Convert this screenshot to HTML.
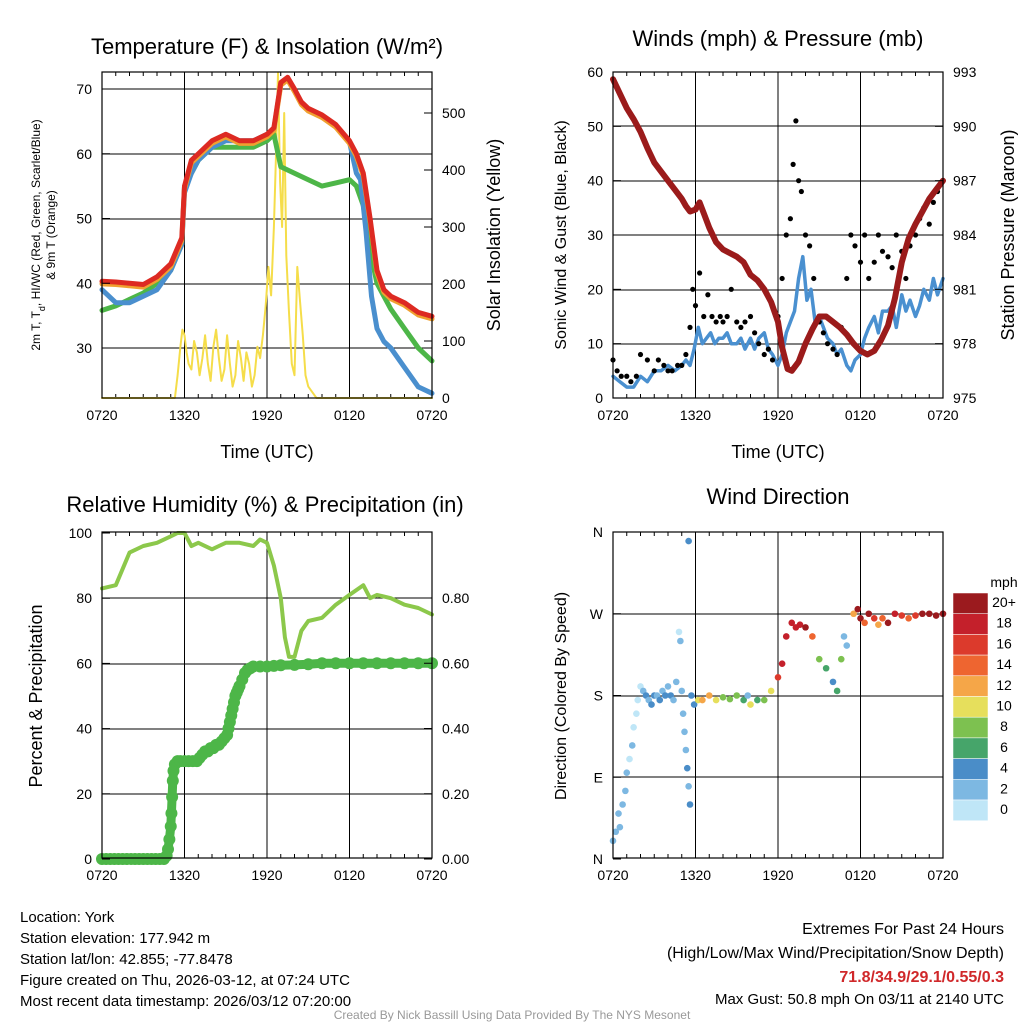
<!DOCTYPE html>
<html><head><meta charset="utf-8"><style>
body{margin:0;background:#fff;}
svg text{font-family:"Liberation Sans",Arial,sans-serif;fill:#000;}
</style></head><body>
<svg id="s" width="1024" height="1024" viewBox="0 0 1024 1024" xmlns="http://www.w3.org/2000/svg"></svg>
<script>
// ---------- data ----------
const xTickLabels=["0720","1320","1920","0120","0720"];
const tempHours=[0,1,2,3,4,5,5.8,6,6.5,7,8,9,10,11,12,12.5,13,13.5,14,14.5,15,16,17,18,18.5,19,19.5,20,20.5,21,22,23,24];
const tempRed=[40.3,40.2,40,39.8,41,43,47,55,59,60,62,63,62,62,63,64,71,71.8,70,68,67,66,64.5,62,60,57,50,42,39,38,37,35.5,34.9];
const tdGreenHours=[0,1,2,3,4,5,5.8,6,6.5,7,8,9,10,11,12,12.5,13,14,15,16,17,18,18.5,19,19.5,20,21,22,23,24];
const tdGreen=[35.8,36.5,37.5,38.5,40,42,46,55,57,59,61,61,61,61,62,63,58,57,56,55,55.5,56,55,52,45,40,36,33,30,28];
const wcBlueHours=[0,0.5,1,2,3,4,5,5.8,6,6.5,7,8,9,10,11,12,12.5,13,13.5,14,14.5,15,16,17,18,18.5,18.8,19.2,19.6,20,20.5,21,22,23,24];
const wcBlue=[39,38,37,37,38,39,42,46,54,57,59,61,62,62,62,63,63.8,70.8,71.6,69.8,67.8,66.8,65.8,64.3,61.8,57,56,48,38,33,31,30,27,24,23];
const solarHours=[0,5.3,5.5,5.7,5.85,6.0,6.15,6.3,6.5,6.7,6.9,7.1,7.3,7.5,7.7,7.9,8.1,8.3,8.5,8.7,8.9,9.1,9.3,9.5,9.7,9.9,10.1,10.3,10.5,10.7,10.9,11.1,11.3,11.5,11.7,11.9,12.1,12.3,12.5,12.65,12.8,12.95,13.1,13.25,13.4,13.6,13.8,14.0,14.2,14.4,14.6,14.8,15.0,15.3,15.6,24];
const solar=[0,0,40,90,120,110,80,60,50,100,80,40,70,110,60,30,90,120,70,30,50,110,60,20,40,100,70,30,80,60,20,40,90,70,110,160,230,180,300,420,570,380,300,500,250,150,60,40,230,170,110,40,20,10,0,0];
const presHours=[0,0.5,1,1.5,2,2.5,3,3.5,4,4.5,5,5.3,5.6,6,6.3,6.6,7,7.5,8,8.5,9,9.5,10,10.5,11,11.5,12,12.3,12.7,13,13.5,14,14.5,15,15.5,16,16.5,17,17.5,18,18.5,19,19.5,20,20.5,21,21.5,22,22.5,23,23.5,24];
const pressure=[992.6,991.8,991,990.4,989.7,988.8,988,987.5,987,986.5,986,985.6,985.3,985.4,985.8,985.2,984.4,983.6,983.2,983,982.8,982.5,981.8,981.5,981,980.3,979.2,977.8,976.6,976.5,977,978,978.8,979.5,979.5,979.2,978.9,978.5,978,977.6,977.4,977.6,978.2,979,980.5,982.5,983.8,984.6,985.3,986,986.5,987];
const windHours=[0,0.5,1,1.5,2,2.5,3,3.5,4,4.5,5,5.3,5.6,5.9,6.2,6.5,6.8,7.1,7.4,7.7,8,8.3,8.6,9,9.3,9.6,10,10.3,10.6,11,11.3,11.6,12,12.3,12.6,12.9,13.2,13.5,13.8,14.1,14.4,14.7,15,15.3,15.6,16,16.3,16.6,17,17.3,17.6,18,18.3,18.6,19,19.3,19.6,20,20.3,20.6,21,21.3,21.6,22,22.3,22.6,23,23.3,23.6,24];
const windSpeed=[4,3,2,2,4,3,5,5,6,5,6,7,6,9,13,10,11,12,10,11,11,12,10,10,11,9,11,9,11,12,9,8,6,8,12,14,16,22,26,18,20,14,15,13,11,10,8,9,6,5,7,8,11,13,15,12,16,16,17,13,19,16,18,15,17,20,18,22,19,22];
const gustHours=[0,0.3,0.6,1,1.3,1.7,2,2.5,3,3.3,3.7,4,4.3,4.7,5,5.3,5.6,5.8,6,6.3,6.6,6.9,7.2,7.5,7.8,8,8.3,8.6,9,9.3,9.6,10,10.3,10.6,11,11.3,11.6,12,12.3,12.6,12.9,13.1,13.3,13.5,13.7,14,14.3,14.6,15,15.3,15.6,16,16.3,16.6,17,17.3,17.6,18,18.3,18.6,19,19.3,19.6,20,20.3,20.6,21,21.3,21.6,22,22.3,22.6,23,23.3,23.6,24];
const gusts=[7,5,4,4,3,4,8,7,5,7,6,5,5,6,6,8,13,20,17,23,15,19,15,14,15,14,15,20,14,13,14,15,12,10,8,9,7,15,22,30,33,43,51,40,38,30,28,22,14,12,10,9,8,13,22,30,28,25,30,22,25,30,27,26,24,30,27,22,28,30,33,35,32,36,38,40];
const rhHours=[0,1,2,3,4,5,5.5,6,6.5,7,8,8.5,9,10,11,11.5,12,12.5,13,13.3,13.6,14,14.5,15,16,17,18,19,19.5,20,21,22,23,24];
const rh=[83,84,94,96,97,99,100,100,96,97,95,96,97,97,96,98,97,90,80,68,62,62,70,73,74,78,81,84,80,81,80,78,77,75];
const precipHours=[0,0.3,0.6,0.9,1.2,1.5,1.8,2.1,2.4,2.7,3,3.3,3.6,3.9,4.2,4.5,4.7,4.8,4.9,5.0,5.05,5.1,5.15,5.2,5.3,5.5,5.7,6,6.3,6.6,6.9,7.1,7.3,7.5,7.7,7.9,8.1,8.3,8.5,8.7,8.9,9.1,9.2,9.3,9.4,9.5,9.6,9.7,9.8,9.9,10,10.2,10.4,10.6,10.8,11,11.5,12,12.5,13,14,15,16,17,18,19,20,21,22,23,24];
const precip=[0,0,0,0,0,0,0,0,0,0,0,0,0,0,0,0,0.01,0.03,0.06,0.1,0.14,0.19,0.24,0.27,0.29,0.3,0.3,0.3,0.3,0.3,0.3,0.31,0.32,0.33,0.33,0.34,0.34,0.35,0.35,0.36,0.37,0.38,0.4,0.42,0.44,0.46,0.48,0.5,0.51,0.52,0.53,0.55,0.57,0.58,0.585,0.59,0.59,0.59,0.592,0.594,0.595,0.597,0.6,0.6,0.6,0.6,0.6,0.6,0.6,0.6,0.6];
const dirHours=[0,0.2,0.4,0.5,0.7,0.9,1.0,1.2,1.4,1.5,1.7,1.8,2.0,2.2,2.4,2.6,2.8,3.0,3.2,3.4,3.6,3.8,4.0,4.2,4.4,4.6,4.8,4.9,5.0,5.1,5.2,5.3,5.4,5.5,5.6,5.5,5.7,5.9,6.2,6.5,7.0,7.5,8.0,8.5,9.0,9.5,9.8,10.0,10.5,11.0,11.5,12.0,12.3,12.6,13.0,13.3,13.6,14.0,14.5,15.0,15.5,16.0,16.3,16.6,16.8,17.0,17.5,17.8,18.0,18.3,18.6,19.0,19.3,19.6,20.0,20.5,21.0,21.5,22.0,22.5,23.0,23.5,24];
const dirDeg=[20,30,50,35,60,75,95,110,125,145,160,175,190,185,180,175,170,180,180,175,185,180,190,180,175,195,250,240,185,160,140,120,100,80,60,350,180,170,175,175,180,175,178,176,180,175,180,170,175,175,185,200,215,245,260,255,258,255,245,220,210,195,185,220,245,235,270,275,265,260,270,265,258,265,260,270,268,265,268,270,270,268,270];
const dirSpeed=[3,2,2,3,2,2,2,1,2,1,1,1,1,3,4,3,4,4,3,4,3,4,2,4,3,2,1,2,2,3,2,3,4,3,4,4,4,4,10,12,13,10,8,9,8,7,3,10,7,8,10,16,18,18,18,18,19,20,14,8,7,5,7,9,3,3,12,20,20,14,20,16,12,14,20,18,16,14,16,20,20,20,20];
const cbarLabels=["20+","18","16","14","12","10","8","6","4","2","0"];
const cbarColors=["#9b1a1e","#c4202b","#dc3a2c","#ee6530","#f5a648","#e6df5c","#7dc150","#46a56a","#4a8dc8","#7db8e2","#bfe6f7"];
// ---------- helpers ----------
const S=document.getElementById('s');const NS="http://www.w3.org/2000/svg";
function mk(tag,at,parent){const e=document.createElementNS(NS,tag);for(const k in at)e.setAttribute(k,at[k]);(parent||S).appendChild(e);return e;}
function txt(x,y,s,size,anchor,name,extra){const t=mk('text',Object.assign({x:x,y:y,'font-size':size,'text-anchor':anchor||'middle'},extra||{}));t.textContent=s;


return t;}
function panel(x0,y0,name){const P={x0:x0,y0:y0,w:330,h:326,sx:h=>x0+h/24*330};
const g=mk('g',{});


P.g=g;return P;}
function frame(P,hgrid){const g=P.g;
for(const h of [6,12,18])mk('line',{x1:P.sx(h),x2:P.sx(h),y1:P.y0,y2:P.y0+P.h,stroke:'#000','stroke-width':1},g);
for(const y of hgrid)mk('line',{x1:P.x0,x2:P.x0+P.w,y1:y,y2:y,stroke:'#000','stroke-width':1},g);
for(let h=1;h<24;h++){mk('line',{x1:P.sx(h),x2:P.sx(h),y1:P.y0+P.h,y2:P.y0+P.h-(h%6?4:8),stroke:'#000'},g);mk('line',{x1:P.sx(h),x2:P.sx(h),y1:P.y0,y2:P.y0+(h%6?4:8),stroke:'#000'},g);}
xTickLabels.forEach((l,i)=>txt(P.sx(i*6),P.y0+P.h+22,l,14,'middle','x-tick-label'));}
function border(P){const r=mk('rect',{x:P.x0,y:P.y0,width:P.w,height:P.h,fill:'none',stroke:'#000','stroke-width':1.2},P.g);

}
function yticks(P,vals,fy,labels,side){vals.forEach((v,i)=>{const y=fy(v);const xe=side=='l'?P.x0:P.x0+P.w;const d=side=='l'?8:-8;
mk('line',{x1:xe,x2:xe+d,y1:y,y2:y,stroke:'#000'},P.g);
txt(side=='l'?P.x0-10:P.x0+P.w+10,y+5,labels[i],14,side=='l'?'end':'start',side=='l'?'y-tick-label-left':'y-tick-label-right');});}
function line(P,hs,vs,fy,color,w,name){const d=hs.map((h,i)=>(i?'L':'M')+P.sx(h).toFixed(1)+','+fy(vs[i]).toFixed(1)).join('');
const p=mk('path',{d:d,fill:'none',stroke:color,'stroke-width':w,'stroke-linejoin':'round','stroke-linecap':'round'},P.g);

return p;}
function dots(P,hs,vs,fy,color,r,name){hs.forEach((h,i)=>{const c=mk('circle',{cx:P.sx(h),cy:fy(vs[i]),r:r,fill:color},P.g);

});}
function lin(v0,v1,y0,y1){return v=>y0+(v-v0)/(v1-v0)*(y1-y0);}
// ---------- panel 1 ----------
let P=panel(102,72,'temperature-panel');
const fT=lin(30,70,348,89),fSol=lin(0,500,398,113);
frame(P,[89,154,219,284,348]);
line(P,solarHours,solar,fSol,'#f5dd4a',2,'solar-insolation-line');
line(P,tdGreenHours,tdGreen,fT,'#4db648',5,'dewpoint-line');
line(P,wcBlueHours,wcBlue,fT,'#4a8fce',5,'heat-index-windchill-line');
line(P,tempHours,tempRed.map(v=>v-0.4),fT,'#f0a030',5,'9m-temp-line');
line(P,tempHours,tempRed,fT,'#dd2a22',5,'temperature-line');
border(P);
yticks(P,[30,40,50,60,70],fT,['30','40','50','60','70'],'l');
yticks(P,[0,100,200,300,400,500],fSol,['0','100','200','300','400','500'],'r');
txt(267,54,'Temperature (F) & Insolation (W/m²)',22,'middle','temperature-title');
txt(267,458,'Time (UTC)',18,'middle','x-axis-title');
const yl=txt(0,0,'2m T, T',12,'middle','y-axis-title-left',{transform:'translate(40,235) rotate(-90)'});
yl.innerHTML='2m T, T<tspan baseline-shift="sub" font-size="9">d</tspan>, HI/WC (Red, Green, Scarlet/Blue)';
txt(0,0,'& 9m T (Orange)',12,'middle','y-axis-title-left-2',{transform:'translate(55,235) rotate(-90)'});
txt(0,0,'Solar Insolation (Yellow)',18,'middle','y-axis-title-right',{transform:'translate(500,235) rotate(-90)'});
// ---------- panel 2 ----------
P=panel(613,72,'winds-panel');
const fW=lin(0,60,398,72),fP=lin(975,993,398,72);
frame(P,[126,181,235,290,344]);
line(P,windHours,windSpeed,fW,'#4a90d0',3.5,'sonic-wind-line');
dots(P,gustHours,gusts,fW,'#000',2.6,'gust-point');
line(P,presHours,pressure,fP,'#9b1b1b',6,'pressure-line');
border(P);
yticks(P,[0,10,20,30,40,50,60],fW,['0','10','20','30','40','50','60'],'l');
yticks(P,[975,978,981,984,987,990,993],fP,['975','978','981','984','987','990','993'],'r');
txt(778,46,'Winds (mph) & Pressure (mb)',22,'middle','winds-title');
txt(778,458,'Time (UTC)',18,'middle','x-axis-title');
txt(0,0,'Sonic Wind & Gust (Blue, Black)',16,'middle','y-axis-title-left',{transform:'translate(566,235) rotate(-90)'});
txt(0,0,'Station Pressure (Maroon)',18,'middle','y-axis-title-right',{transform:'translate(1014,235) rotate(-90)'});
// ---------- panel 3 ----------
P=panel(102,532,'humidity-panel');
const fR=lin(0,100,859,533),fPr=lin(0,0.8,859,598);
frame(P,[598,664,729,794]);
line(P,rhHours,rh,fR,'#8cc84b',4,'relative-humidity-line');
line(P,precipHours,precip,fPr,'#4db648',9,'precipitation-line');
dots(P,precipHours,precip,fPr,'#4db648',6,'precipitation-point');
border(P);
yticks(P,[0,20,40,60,80,100],fR,['0','20','40','60','80','100'],'l');
yticks(P,[0,0.2,0.4,0.6,0.8],fPr,['0.00','0.20','0.40','0.60','0.80'],'r');
txt(265,512,'Relative Humidity (%) & Precipitation (in)',22,'middle','humidity-title');
txt(0,0,'Percent & Precipitation',18,'middle','y-axis-title-left',{transform:'translate(42,696) rotate(-90)'});
// ---------- panel 4 ----------
P=panel(613,532,'wind-direction-panel');
const fD=lin(0,360,859,532);
frame(P,[614,696,777]);
function spdColor(s){let i=Math.min(10,Math.floor(s/2));return cbarColors[10-i];}
dirHours.forEach((h,i)=>{const c=mk('circle',{cx:P.sx(h),cy:fD(dirDeg[i]),r:3.3,fill:spdColor(dirSpeed[i])},P.g);

});
border(P);
yticks(P,[0,90,180,270,360],fD,['N','E','S','W','N'],'l');
txt(778,504,'Wind Direction',22,'middle','wind-direction-title');
txt(0,0,'Direction (Colored By Speed)',16,'middle','y-axis-title-left',{transform:'translate(566,696) rotate(-90)'});
const cb=mk('g',{});


txt(1004,587,'mph',14,'middle','colorbar-title');
cbarColors.forEach((c,i)=>{mk('rect',{x:953,y:593+i*20.7,width:35,height:20.7,fill:c,stroke:'#fff','stroke-width':0.5},cb);
txt(1004,611+i*20.7-4,cbarLabels[i],14,'middle','colorbar-label');});
// ---------- footer ----------
const info=["Location: York","Station elevation: 177.942 m","Station lat/lon: 42.855; -77.8478","Figure created on Thu, 2026-03-12, at 07:24 UTC","Most recent data timestamp: 2026/03/12 07:20:00"];
info.forEach((s,i)=>txt(20,922+i*21,s,15,'start','station-info-line'));
txt(1004,934,'Extremes For Past 24 Hours',16,'end','extremes-title');
txt(1004,958,'(High/Low/Max Wind/Precipitation/Snow Depth)',16,'end','extremes-subtitle');
txt(1004,982,'71.8/34.9/29.1/0.55/0.3',16,'end','extremes-values',{style:'fill:#d0282a;font-weight:bold'});
txt(1004,1004,'Max Gust: 50.8 mph On 03/11 at 2140 UTC',15,'end','max-gust-text');
txt(512,1019,'Created By Nick Bassill Using Data Provided By The NYS Mesonet',12,'middle','credit-text',{style:'fill:#999'});
</script>
</body></html>
